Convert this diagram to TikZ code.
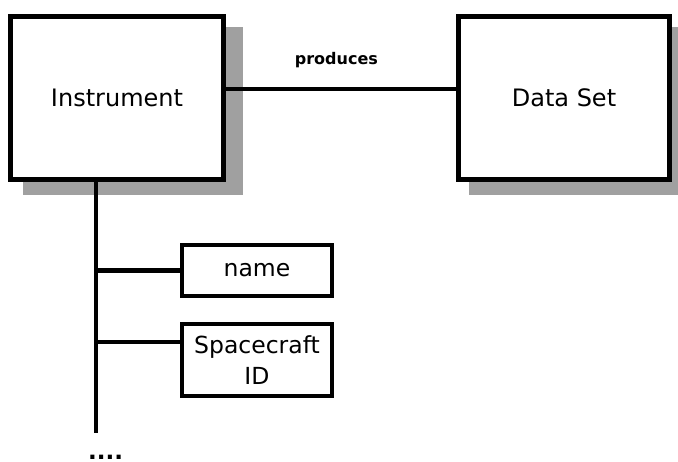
\documentclass[tikz,border=0pt]{standalone}
\usepackage{fontspec}
\setmainfont{DejaVu Sans}
\usetikzlibrary{calc}
\definecolor{shadowgray}{HTML}{A0A0A0}
\begin{document}
\begin{tikzpicture}[x=1pt,y=-1pt,
  bigbox/.style={draw=black, line width=5pt, fill=white, minimum width=213pt, minimum height=163pt, inner sep=0pt, font=\fontsize{24}{31}\selectfont},
  smallbox/.style={draw=black, line width=4pt, fill=white, minimum width=150pt, inner sep=0pt, align=center, font=\fontsize{23.5}{31}\selectfont},
  link/.style={line width=4.5pt},
  shade/.style={fill=shadowgray}
]
\useasboundingbox (0,0) rectangle (678,462);
\fill[white] (0,0) rectangle (678,462);
% shadows
\fill[shade] (23,27) rectangle (243,195);
\fill[shade] (469,27) rectangle (690,195);
% main boxes
\node[bigbox] (inst) at (117,98) {Instrument};
\node[bigbox, minimum width=211pt] (ds) at (564,98) {Data Set};
% association
\draw[link] ([yshift=9pt]inst.east) -- node[pos=0.48, anchor=base, yshift=24pt, font=\fontsize{16}{18}\selectfont\bfseries] {produces} ([yshift=9pt]ds.west);
% trunk
\coordinate (trunkEnd) at (96,433);
\draw[link] (inst.south -| trunkEnd) -- (trunkEnd);
% attributes
\node[smallbox, minimum height=51pt] (name) at (257,270.5) {name};
\node[smallbox, minimum height=72pt] (scid) at (257,360) {Spacecraft\\ID};
\draw[link] (name.west) -- (name.west -| trunkEnd);
\draw[link] ([yshift=18pt]scid.west) -- ([yshift=18pt]scid.west -| trunkEnd);
% ellipsis
\node[anchor=base west, inner sep=0pt, text depth=0pt, text height=4pt, font=\fontsize{23}{31}\selectfont\bfseries] (more) at (88,459.5) {....};
\end{tikzpicture}
\end{document}
